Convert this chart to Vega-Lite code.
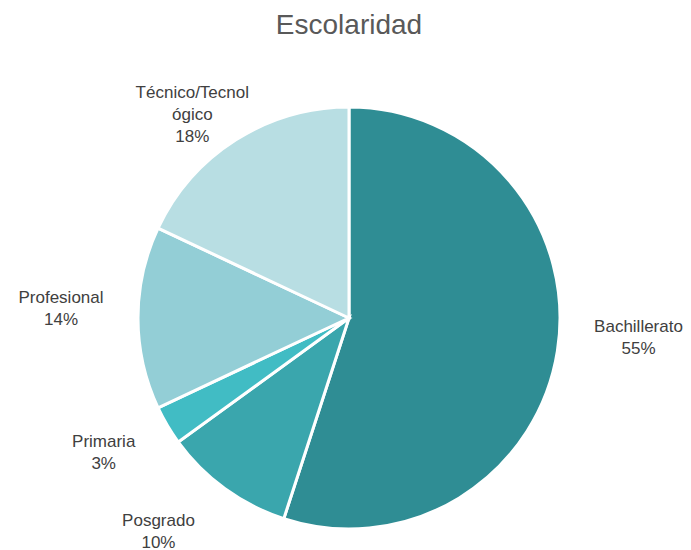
{
  "$schema": "https://vega.github.io/schema/vega-lite/v6.json",
  "width": 684,
  "height": 464,
  "autosize": {"type": "none"},
  "padding": {"left": 7, "top": 86, "right": 0, "bottom": 0},
  "background": "white",
  "title": {"text": "Escolaridad", "fontSize": 28, "font": "Liberation Sans", "fontWeight": "normal", "color": "#595959", "baseline": "alphabetic", "offset": -30, "anchor": "middle", "frame": "group"},
  "data": {"values": [
    {"nivel": "Bachillerato", "pct": 55, "orden": 1, "etiqueta": "Bachillerato\n55%"},
    {"nivel": "Posgrado", "pct": 10, "orden": 2, "etiqueta": "Posgrado\n10%"},
    {"nivel": "Primaria", "pct": 3, "orden": 3, "etiqueta": "Primaria\n3%"},
    {"nivel": "Profesional", "pct": 14, "orden": 4, "etiqueta": "Profesional\n14%"},
    {"nivel": "Técnico/Tecnológico", "pct": 18, "orden": 5, "etiqueta": "Técnico/Tecnol\nógico\n18%"}
  ]},
  "encoding": {
    "theta": {"field": "pct", "type": "quantitative", "stack": true},
    "order": {"field": "orden", "type": "quantitative"}
  },
  "layer": [
    {
      "mark": {"type": "arc", "outerRadius": 211, "stroke": "white", "strokeWidth": 3},
      "encoding": {
        "color": {"field": "nivel", "type": "nominal", "legend": null,
          "scale": {"domain": ["Bachillerato", "Posgrado", "Primaria", "Profesional", "Técnico/Tecnológico"],
                    "range": ["#2F8D94", "#3AA6AD", "#41BCC4", "#93CED6", "#B8DEE3"]}}
      }
    },
    {
      "mark": {"type": "text", "radius": 285, "dx": 8, "dy": -36, "font": "Liberation Sans", "fontSize": 17, "lineHeight": 22, "color": "#404040", "lineBreak": "\n"},
      "encoding": {"text": {"condition": {"test": "datum.nivel === 'Bachillerato'", "field": "etiqueta"}, "value": ""}}
    },
    {
      "mark": {"type": "text", "radius": 285, "dx": -23, "dy": -28, "font": "Liberation Sans", "fontSize": 17, "lineHeight": 22, "color": "#404040", "lineBreak": "\n"},
      "encoding": {"text": {"condition": {"test": "datum.nivel === 'Posgrado'", "field": "etiqueta"}, "value": ""}}
    },
    {
      "mark": {"type": "text", "radius": 285, "dx": 0, "dy": -21, "font": "Liberation Sans", "fontSize": 17, "lineHeight": 22, "color": "#404040", "lineBreak": "\n"},
      "encoding": {"text": {"condition": {"test": "datum.nivel === 'Primaria'", "field": "etiqueta"}, "value": ""}}
    },
    {
      "mark": {"type": "text", "radius": 285, "dx": -3, "dy": -20, "font": "Liberation Sans", "fontSize": 17, "lineHeight": 22, "color": "#404040", "lineBreak": "\n"},
      "encoding": {"text": {"condition": {"test": "datum.nivel === 'Profesional'", "field": "etiqueta"}, "value": ""}}
    },
    {
      "mark": {"type": "text", "radius": 285, "dx": -4, "dy": 16, "font": "Liberation Sans", "fontSize": 17, "lineHeight": 22, "color": "#404040", "lineBreak": "\n"},
      "encoding": {"text": {"condition": {"test": "datum.nivel === 'Técnico/Tecnológico'", "field": "etiqueta"}, "value": ""}}
    }
  ],
  "config": {"view": {"stroke": null}}
}
